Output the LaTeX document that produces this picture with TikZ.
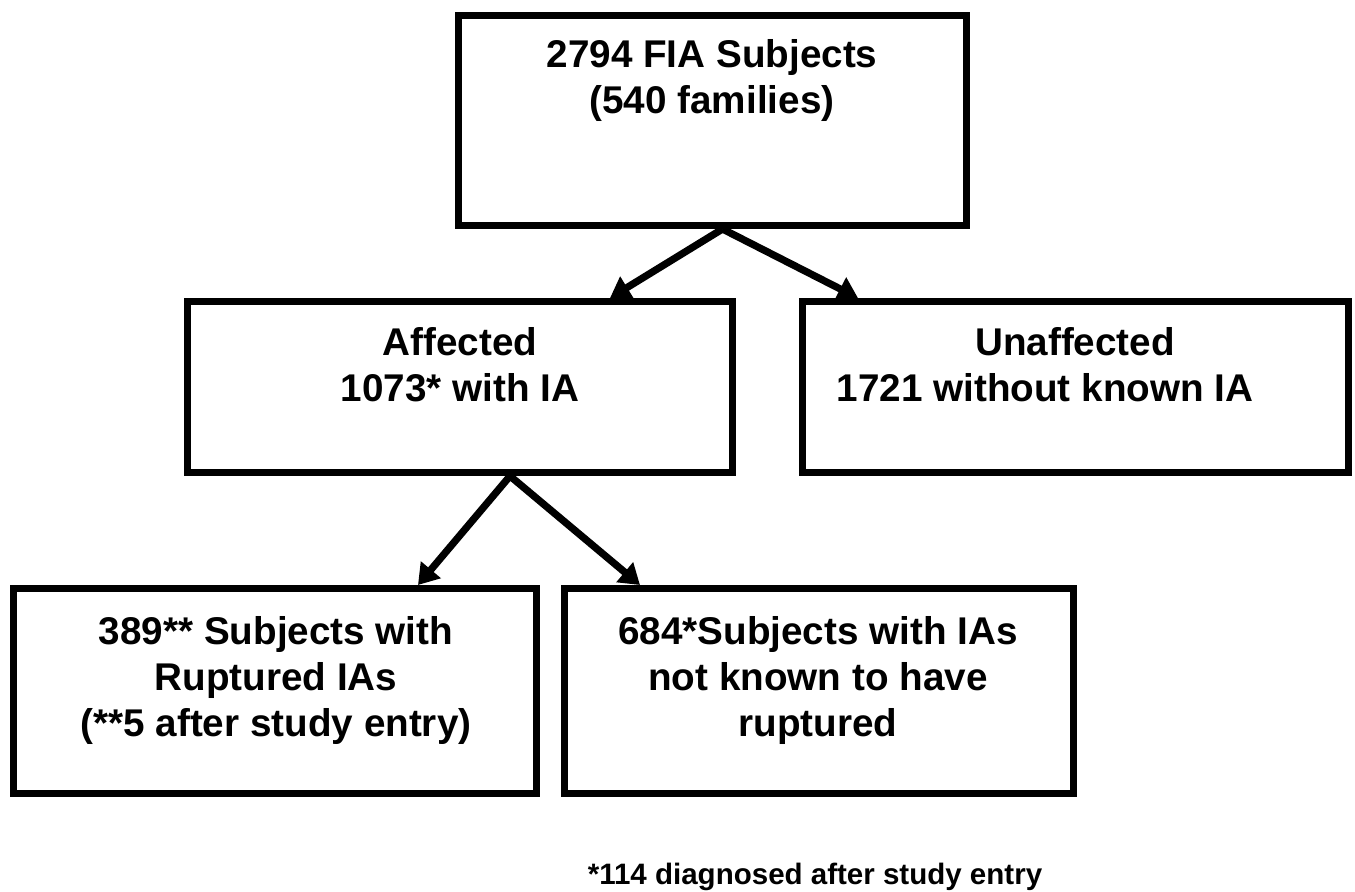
\documentclass[tikz,border=0pt]{standalone}
\usepackage{fontspec}
\setmainfont{Liberation Sans}
\usetikzlibrary{arrows.meta,calc}
\newlength\pxl \setlength\pxl{0.02cm}
\begin{document}
\begin{tikzpicture}[x=0.02cm, y=-0.02cm,
  box/.style={draw, rectangle, line width=0.14cm, inner sep=0pt},
  txt/.style={font=\bfseries\fontsize{22}{26.1}\selectfont, align=center, inner sep=0pt, anchor=north},
  note/.style={font=\bfseries\fontsize{16.8}{20}\selectfont, inner sep=0pt, anchor=base},
  arr/.style={line width=0.145cm, -{Triangle[length=0.4cm,width=0.5cm]}}]
\useasboundingbox (0,0) rectangle (1355,892);
% boxes
\node[box, minimum width=508*\pxl, minimum height=210*\pxl] (top) at (712.5,120.5) {};
\node[box, minimum width=545*\pxl, minimum height=171*\pxl] (aff) at (460,387) {};
\node[box, minimum width=546*\pxl, minimum height=171*\pxl] (unaff) at (1075.5,387) {};
\node[box, minimum width=523*\pxl, minimum height=205*\pxl] (rup) at (275,691) {};
\node[box, minimum width=509*\pxl, minimum height=205*\pxl] (nrup) at (819,691) {};
% texts
\node[txt] (toptxt) at (712,39) {2794 FIA Subjects\\(540 families)};
\node[txt] (afftxt) at (460,327) {Affected\\1073* with IA};
\node[txt] (unafftxt) at (1045,327) {\hspace*{60\pxl}Unaffected\\1721 without known IA};
\node[txt] (ruptxt) at (276,616) {389** Subjects with\\Ruptured IAs\\(**5 after study entry)};
\node[txt] (nruptxt) at (818,616) {684*Subjects with IAs\\not known to have\\ruptured};
\node[note] (foot) at (815,884) {*114 diagnosed after study entry};
% arrows
\coordinate (t0) at ($(top.south)+(10,0)$);
\coordinate (a0) at ($(aff.south)+(50,0)$);
\draw[arr] (t0) -- ($(aff.north)+(150,0)$);
\draw[arr] (t0) -- ($(unaff.north)+(-217.5,0)$);
\draw[arr] (a0) -- ($(rup.north)+(143,0)$);
\draw[arr] (a0) -- ($(nrup.north)+(-179,0)$);
\end{tikzpicture}
\end{document}
